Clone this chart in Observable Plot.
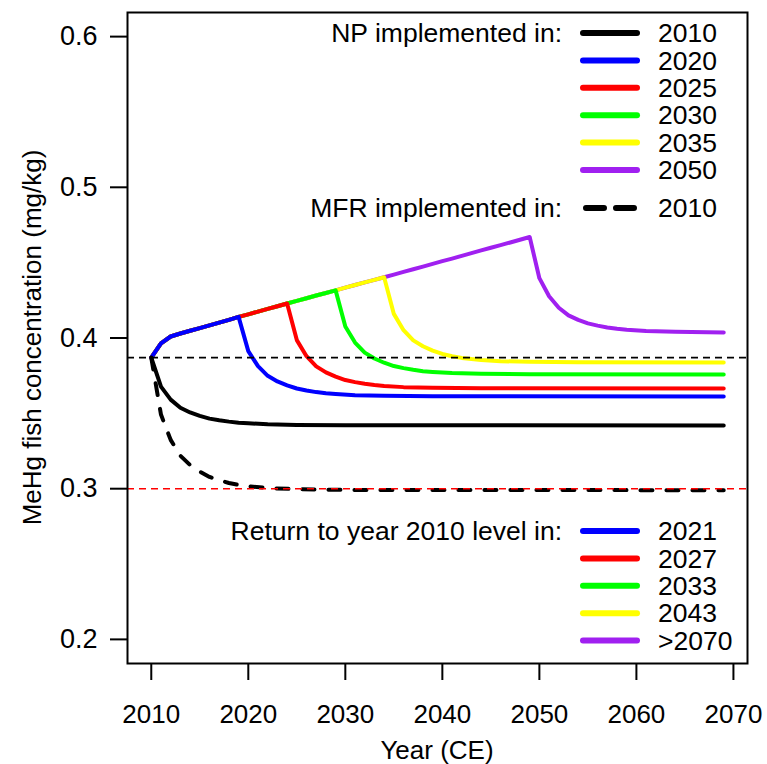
<!DOCTYPE html>
<html>
<head>
<meta charset="utf-8">
<script src="https://cdn.jsdelivr.net/npm/d3@7"></script>
<script src="https://cdn.jsdelivr.net/npm/@observablehq/plot@0.6"></script>
<style>
  html, body { margin: 0; padding: 0; background: #fff; }
  #chart { width: 767px; height: 764px; }
</style>
</head>
<body>
<div id="chart"></div>
<script>
// ---------- data ----------
const xTicks = [2010, 2020, 2030, 2040, 2050, 2060, 2070];
const yTicks = [0.2, 0.3, 0.4, 0.5, 0.6];

// shared rising trajectory (no policy), 2010-2049
const riseYears = [2010,2011,2012,2013,2014,2015,2016,2017,2018,2019,2020,2021,2022,2023,2024,2025,2026,2027,2028,2029,2030,2031,2032,2033,2034,2035,2036,2037,2038,2039,2040,2041,2042,2043,2044,2045,2046,2047,2048,2049];
const riseValues = [0.3870,0.3965,0.4010,0.4030,0.4048,0.4066,0.4084,0.4102,0.4120,0.4140,0.4157,0.4175,0.4193,0.4211,0.4229,0.4246,0.4264,0.4282,0.4299,0.4316,0.4334,0.4352,0.4369,0.4386,0.4403,0.4421,0.4439,0.4456,0.4474,0.4492,0.4510,0.4527,0.4545,0.4563,0.4581,0.4599,0.4616,0.4634,0.4652,0.4670];

// decay after NP implementation (from peak year)
const np2010Years  = [2010,2011,2012,2013,2014,2015,2016,2017,2018,2019,2020,2022,2025,2030,2069];
const np2010Values = [0.3870,0.3677,0.3591,0.3537,0.3506,0.3483,0.3465,0.3454,0.3445,0.3438,0.3434,0.3427,0.3423,0.3421,0.3420];

const np2020Years  = [2019,2020,2021,2022,2023,2024,2025,2026,2027,2028,2029,2031,2034,2039,2069];
const np2020Values = [0.4140,0.3913,0.3813,0.3749,0.3712,0.3686,0.3665,0.3652,0.3641,0.3633,0.3628,0.3620,0.3616,0.3614,0.3612];

const np2025Years  = [2024,2025,2026,2027,2028,2029,2030,2031,2032,2033,2034,2036,2039,2044,2069];
const np2025Values = [0.4229,0.3986,0.3879,0.3812,0.3772,0.3744,0.3721,0.3707,0.3696,0.3688,0.3682,0.3674,0.3670,0.3667,0.3665];

const np2030Years  = [2029,2030,2031,2032,2033,2034,2035,2036,2037,2038,2039,2041,2044,2049,2069];
const np2030Values = [0.4316,0.4076,0.3970,0.3903,0.3864,0.3836,0.3814,0.3800,0.3789,0.3780,0.3775,0.3767,0.3762,0.3760,0.3758];

const np2035Years  = [2034,2035,2036,2037,2038,2039,2040,2041,2042,2043,2044,2046,2049,2054,2069];
const np2035Values = [0.4403,0.4160,0.4052,0.3984,0.3945,0.3916,0.3894,0.3879,0.3868,0.3860,0.3854,0.3846,0.3842,0.3839,0.3837];

const np2050Years  = [2049,2050,2051,2052,2053,2054,2055,2056,2057,2058,2059,2061,2064,2069];
const np2050Values = [0.4670,0.4397,0.4277,0.4201,0.4150,0.4120,0.4097,0.4082,0.4070,0.4061,0.4055,0.4046,0.4041,0.4036];

// MFR implemented in 2010
const mfrYears  = [2010,2011,2012,2013,2014,2015,2016,2017,2018,2019,2020,2022,2025,2030,2069];
const mfrValues = [0.3870,0.3492,0.3324,0.3219,0.3157,0.3113,0.3078,0.3056,0.3038,0.3025,0.3016,0.3004,0.2997,0.2992,0.2990];

// reference levels
const level2010 = 0.387;
const mfrLevel = 0.300;

// legend contents
const npLegendLabels = ["2010", "2020", "2025", "2030", "2035", "2050"];
const npLegendColors = ["#000000", "#0000FF", "#FF0000", "#00FF00", "#FFFF00", "#A020F0"];
const returnLegendLabels = ["2021", "2027", "2033", "2043", ">2070"];
const returnLegendColors = ["#0000FF", "#FF0000", "#00FF00", "#FFFF00", "#A020F0"];

// ---------- build series ----------
function decaySeries(yrs, vals) { return yrs.map((y, i) => ({year: y, value: vals[i]})); }
function withRise(yrs, vals) {
  const peak = yrs[0];
  const rise = riseYears.map((y, i) => ({year: y, value: riseValues[i]})).filter(d => d.year < peak);
  return rise.concat(decaySeries(yrs, vals));
}
const sPurple = withRise(np2050Years, np2050Values);
const sYellow = withRise(np2035Years, np2035Values);
const sGreen  = withRise(np2030Years, np2030Values);
const sRed    = withRise(np2025Years, np2025Values);
const sBlue   = withRise(np2020Years, np2020Values);
const sBlack  = decaySeries(np2010Years, np2010Values);
const sMfr    = decaySeries(mfrYears, mfrValues);

const FONT = '"Liberation Sans", Arial, Helvetica, sans-serif';
const lineOpts = (c) => ({x: "year", y: "value", stroke: c, strokeWidth: 4, strokeLinecap: "round", strokeLinejoin: "round"});

const chart = Plot.plot({
  width: 767,
  height: 764,
  marginLeft: 127,
  marginRight: 20,
  marginTop: 12,
  marginBottom: 101,
  style: {fontFamily: FONT, fontSize: "26px", color: "#000", background: "#fff"},
  x: {domain: [2007.55, 2071.45]},
  y: {domain: [0.184, 0.616]},
  marks: [
    Plot.line(sMfr, {...lineOpts("#000000"), strokeDasharray: "12,14"}),
    Plot.line(sPurple, lineOpts(npLegendColors[5])),
    Plot.line(sYellow, lineOpts(npLegendColors[4])),
    Plot.line(sGreen, lineOpts(npLegendColors[3])),
    Plot.line(sRed, lineOpts(npLegendColors[2])),
    Plot.line(sBlue, lineOpts(npLegendColors[1])),
    Plot.line(sBlack, lineOpts(npLegendColors[0])),
    Plot.ruleY([level2010], {stroke: "#000", strokeWidth: 1.6, strokeDasharray: "7,5"}),
    Plot.ruleY([mfrLevel], {stroke: "#FF0000", strokeWidth: 1.6, strokeDasharray: "7,5"}),
    Plot.axisX({ticks: xTicks, tickFormat: d => String(d), tickSize: 17, tickPadding: 24, strokeWidth: 2, fontSize: 26, label: null}),
    Plot.axisY({ticks: yTicks, tickFormat: d => d.toFixed(1), tickSize: 17, tickPadding: 13, strokeWidth: 2, fontSize: 27, label: null}),
    Plot.frame({stroke: "#000", strokeWidth: 2})
  ]
});
document.getElementById("chart").appendChild(chart);

// ---------- axis titles & legend overlay ----------
const svg = d3.select(chart);
svg.append("text").attr("x", 437).attr("y", 750).attr("dy", "0.35em")
  .attr("text-anchor", "middle").attr("font-size", 26).attr("font-family", FONT).attr("fill", "#000")
  .text("Year (CE)");
svg.append("text").attr("transform", "translate(32,337.5) rotate(-90)").attr("dy", "0.35em")
  .attr("text-anchor", "middle").attr("font-size", 26).attr("font-family", FONT).attr("fill", "#000")
  .text("MeHg fish concentration (mg/kg)");

const lg = svg.append("g").attr("font-family", FONT).attr("font-size", 26.5).attr("fill", "#000");
function header(txt, y) {
  lg.append("text").attr("x", 562).attr("y", y).attr("dy", "0.35em").attr("text-anchor", "end").text(txt);
}
function item(label, color, y, dashed) {
  const l = lg.append("line").attr("x1", dashed ? 586 : 583).attr("x2", dashed ? 634 : 637)
    .attr("y1", y).attr("y2", y).attr("stroke", color).attr("stroke-width", 6).attr("stroke-linecap", "round");
  if (dashed) l.attr("stroke-dasharray", "18,12");
  lg.append("text").attr("x", 658).attr("y", y).attr("dy", "0.35em").attr("text-anchor", "start").text(label);
}
header("NP implemented in:", 33);
npLegendLabels.forEach((lab, i) => item(lab, npLegendColors[i], 33 + i * 27.4, false));
header("MFR implemented in:", 208);
item("2010", "#000000", 208, true);
header("Return to year 2010 level in:", 531);
returnLegendLabels.forEach((lab, i) => item(lab, returnLegendColors[i], 531 + i * 27.4, false));
</script>
</body>
</html>
